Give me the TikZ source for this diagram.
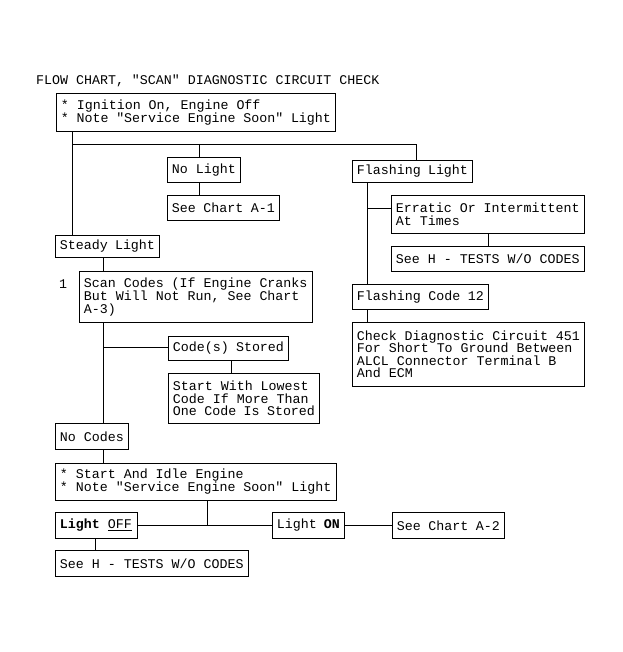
\documentclass[tikz,border=0pt]{standalone}
\usepackage{fontspec}
\newfontfamily\mono{Liberation Mono}
\newcommand\dfont{\mono\fontsize{13.3}{12.5}\selectfont}
\begin{document}
\begin{tikzpicture}[x=1pt,y=-1pt,
  box/.style={draw, line width=0.9pt, anchor=north west, inner xsep=4.5pt, inner ysep=0pt, align=left, font=\dfont,
    execute at begin node={\spaceskip=0pt\xspaceskip=0pt}},
  wire/.style={line width=0.9pt},
  lbl/.style={font=\dfont, inner sep=0pt}]
\useasboundingbox[fill=white] (0,0) rectangle (622,652);
\node[lbl, anchor=base west] (title) at (36,85) {FLOW CHART, "SCAN" DIAGNOSTIC CIRCUIT CHECK};
\node[box, text width=270, minimum height=38, font=\mono\fontsize{13.3}{13.5}\selectfont] (b1) at (56,93) {* Ignition On, Engine Off\\{}* Note "Service Engine Soon" Light};
\node[box, text width=64, minimum height=25] (nolight) at (167,157) {No Light};
\node[box, text width=103, minimum height=25] (chartA1) at (167,195) {See Chart A-1};
\node[box, text width=111, minimum height=22] (flash) at (352,160) {Flashing Light};
\node[box, text width=184, minimum height=38] (erratic) at (391,195) {Erratic Or Intermittent\\At Times};
\node[box, text width=184, minimum height=25] (seeH1) at (391,246) {See H - TESTS W/O CODES};
\node[box, text width=223, minimum height=64] (check) at (352,322) {Check Diagnostic Circuit 451\\For Short To Ground Between\\ALCL Connector Terminal B\\And ECM};
\node[box, text width=127, minimum height=25] (code12) at (352,284) {Flashing Code 12};
\node[box, text width=95, minimum height=22] (steady) at (55,235) {Steady Light};
\node[lbl, anchor=base] (one) at (63,288) {1};
\node[box, text width=224, minimum height=51, font=\mono\fontsize{13.3}{11.5}\selectfont] (scan) at (79,271) {Scan Codes (If Engine Cranks\\But Will Not Run, See Chart\\A-3)};
\node[box, text width=111, minimum height=24] (stored) at (168,336) {Code(s) Stored};
\node[box, text width=142, minimum height=50] (lowest) at (168,373) {Start With Lowest\\Code If More Than\\One Code Is Stored};
\node[box, text width=64, minimum height=26] (nocodes) at (55,423) {No Codes};
\node[box, text width=272, minimum height=37, font=\mono\fontsize{13.3}{13}\selectfont] (idle) at (55,463) {* Start And Idle Engine\\{}* Note "Service Engine Soon" Light};
\node[box, text width=73, minimum height=26] (off) at (55,512) {{\bfseries Light} \underline{OFF}};
\node[box, text width=63, minimum height=26] (on) at (272,512) {Light {\bfseries ON}};
\node[box, text width=103, minimum height=26] (chartA2) at (392,512) {See Chart A-2};
\node[box, text width=184, minimum height=26] (seeH2) at (55,550) {See H - TESTS W/O CODES};
% connectors
\coordinate (j1) at (72,144);
\coordinate (j2) at (416,144);
\coordinate (j3) at (199,144);
\draw[wire] (j1 |- b1.south) -- (j1 |- steady.north);
\draw[wire] (j1) -- (j2) -- (j2 |- flash.north);
\draw[wire] (j3) -- (j3 |- nolight.north);
\draw[wire] (j3 |- nolight.south) -- (j3 |- chartA1.north);
\coordinate (f1) at (367,208);
\draw[wire] (f1 |- flash.south) -- (f1 |- code12.north);
\draw[wire] (f1) -- (f1 -| erratic.west);
\coordinate (e1) at (488,240);
\draw[wire] (e1 |- erratic.south) -- (e1 |- seeH1.north);
\draw[wire] (f1 |- code12.south) -- (f1 |- check.north);
\coordinate (s1) at (103,347);
\draw[wire] (s1 |- steady.south) -- (s1 |- scan.north);
\draw[wire] (s1 |- scan.south) -- (s1 |- nocodes.north);
\draw[wire] (s1) -- (s1 -| stored.west);
\coordinate (c1) at (231,366);
\draw[wire] (c1 |- stored.south) -- (c1 |- lowest.north);
\draw[wire] (s1 |- nocodes.south) -- (s1 |- idle.north);
\coordinate (i1) at (207,525);
\draw[wire] (i1 |- idle.south) -- (i1);
\draw[wire] (off.east) -- (on.west);
\draw[wire] (on.east) -- (chartA2.west);
\coordinate (o1) at (95,544);
\draw[wire] (o1 |- off.south) -- (o1 |- seeH2.north);
\end{tikzpicture}
\end{document}
